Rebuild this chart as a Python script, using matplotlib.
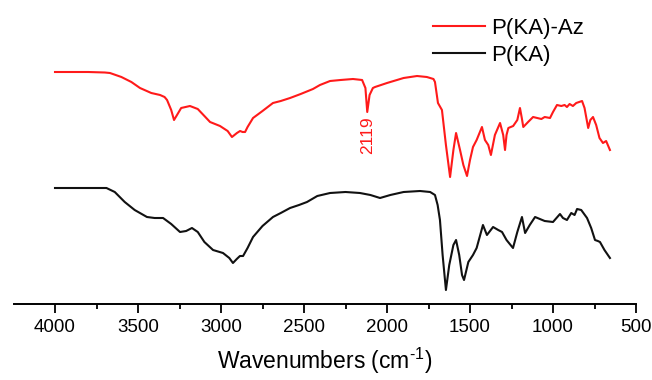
import matplotlib
matplotlib.use("Agg")
import matplotlib.pyplot as plt
import numpy as np

# Wavenumber (cm-1) and vertical position (pixel-like, downward = more absorption)
wn_red = [4000, 3900, 3800, 3700, 3669, 3600, 3540, 3488, 3420, 3367, 3340, 3325, 3300, 3283, 3265, 3240,
          3187, 3140, 3100, 3066, 3006, 2960, 2934, 2904, 2885, 2870, 2855, 2840, 2807, 2750, 2687, 2640,
          2584, 2520, 2446, 2404, 2343, 2280, 2205, 2150, 2130, 2119, 2105, 2085, 2072, 2000, 1900, 1819,
          1760, 1720, 1711, 1693, 1669, 1645, 1620, 1600, 1584, 1560, 1540, 1518, 1500, 1482, 1460, 1428,
          1410, 1390, 1374, 1350, 1319, 1300, 1289, 1280, 1269, 1240, 1215, 1199, 1188, 1179, 1150, 1120,
          1070, 1050, 1018, 1000, 976, 950, 930, 916, 900, 880, 860, 825, 810, 788, 775, 759, 740, 720,
          699, 680, 657]
sig_red = [72, 72, 72, 72.5, 73, 77, 82, 88, 93, 95, 97, 100, 110, 120, 115, 108,
           106, 109, 116, 122, 126, 131, 137, 133, 131, 132, 132, 127, 118, 111, 103, 101,
           98, 94, 89, 85, 81, 80, 79, 80, 88, 112, 95, 88, 87, 83, 78, 76,
           77, 79, 82, 103, 110, 145, 177, 150, 133, 150, 165, 176, 160, 147, 140, 127,
           140, 145, 155, 135, 123, 135, 150, 135, 128, 126, 120, 108, 118, 127, 122, 117,
           119, 117, 118, 112, 105, 106, 105, 107, 104, 106, 103, 101, 108, 128, 120, 117, 125, 138,
           143, 141, 150]

wn_blk = [4000, 3900, 3800, 3690, 3640, 3580, 3520, 3446, 3400, 3349, 3300, 3247, 3210, 3175, 3140, 3100,
          3048, 2988, 2950, 2928, 2905, 2886, 2867, 2840, 2807, 2750, 2687, 2640, 2584, 2530, 2482, 2420,
          2343, 2250, 2163, 2100, 2042, 1980, 1900, 1801, 1740, 1711, 1695, 1681, 1665, 1645, 1625, 1600,
          1584, 1565, 1548, 1536, 1510, 1482, 1460, 1422, 1398, 1361, 1330, 1307, 1280, 1241, 1215, 1187,
          1168, 1140, 1108, 1050, 1000, 958, 940, 916, 890, 870, 855, 830, 795, 770, 747, 730, 717, 690, 657]
sig_blk = [188, 188, 188, 188, 192, 202, 210, 217, 218, 218, 224, 232, 231, 228, 232, 242,
           250, 253, 258, 263, 259, 256, 256, 248, 237, 226, 217, 213, 208, 205, 202, 196,
           193, 192, 193, 195, 198, 195, 192, 191, 192, 195, 205, 220, 255, 290, 265, 245,
           240, 255, 275, 280, 262, 255, 248, 225, 235, 227, 230, 232, 240, 248, 232, 217,
           233, 225, 217, 221, 222, 214, 218, 220, 213, 215, 209, 210, 218, 228, 240, 241, 242, 250, 258]

labels = ["P(KA)-Az", "P(KA)"]
xticks = [4000, 3500, 3000, 2500, 2000, 1500, 1000, 500]
annot_wn = 2119
annot_text = "2119"

plt.rcParams['font.family'] = ['Liberation Sans', 'DejaVu Sans']
plt.rcParams['mathtext.fontset'] = 'custom'
plt.rcParams['mathtext.rm'] = 'Liberation Sans'

fig = plt.figure(figsize=(6.52, 3.8), dpi=100)
ax = fig.add_axes([14/652, 76/380, 622/652, 304/380])

ax.plot(wn_red, sig_red, color="#ff1a1a", lw=1.5, label=labels[0])
ax.plot(wn_blk, sig_blk, color="#111111", lw=1.5, label=labels[1])

ax.set_xlim(4247, 500)
ax.set_ylim(304, 0)

for s in ["left", "right", "top"]:
    ax.spines[s].set_visible(False)
ax.spines["bottom"].set_linewidth(1.4)
ax.set_yticks([])
ax.set_xticks(xticks)
ax.set_xticks([3750, 3250, 2750, 2250, 1750, 1250, 750], minor=True)
ax.tick_params(axis="x", which="major", length=6.5, width=1.3, labelsize=13.5, pad=4)
ax.tick_params(axis="x", which="minor", length=3.5, width=1.3)
ax.set_xlabel("Wavenumbers (cm$^{\\text{-1}}$)", fontsize=16.5, labelpad=7)

ax.text(annot_wn, 135, annot_text, rotation=90, color="#ff1a1a", fontsize=12.5,
        ha="center", va="center")

leg = ax.legend(loc="upper left", bbox_to_anchor=(433/652, 1 - 18/380), bbox_transform=fig.transFigure,
                frameon=False, fontsize=16, handlelength=2.35, handletextpad=0.28,
                borderpad=0, borderaxespad=0, labelspacing=0.25)
for l in leg.get_lines():
    l.set_linewidth(1.5)

fig.savefig("out.png", dpi=100)
